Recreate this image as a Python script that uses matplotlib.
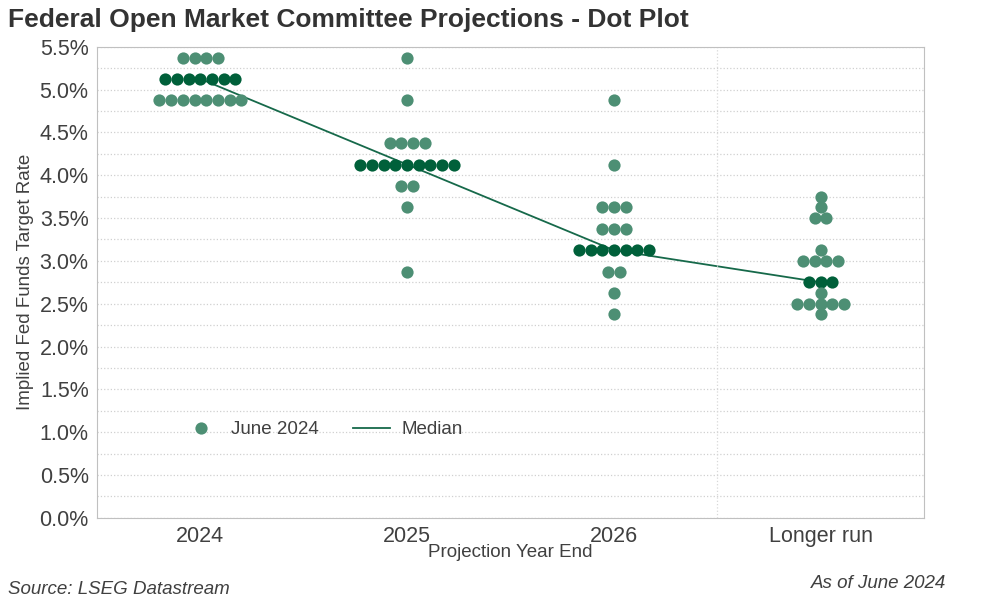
import matplotlib.pyplot as plt
from matplotlib.ticker import MultipleLocator, FuncFormatter

plt.rcParams['font.family'] = ['Liberation Sans', 'DejaVu Sans']

categories = ['2024', '2025', '2026', 'Longer run']
# rate level -> number of participants, per projection horizon
dots_2024 = {5.375: 4, 5.125: 7, 4.875: 8}
dots_2025 = {5.375: 1, 4.875: 1, 4.375: 4, 4.125: 9, 3.875: 2, 3.625: 1, 2.875: 1}
dots_2026 = {4.875: 1, 4.125: 1, 3.625: 3, 3.375: 3, 3.125: 7, 2.875: 2, 2.625: 1, 2.375: 1}
dots_lr = {3.75: 1, 3.625: 1, 3.5: 2, 3.125: 1, 3.0: 4, 2.75: 3, 2.625: 1, 2.5: 5, 2.375: 1}
medians = [5.125, 4.125, 3.125, 2.75]

light = '#4d8f74'
dark = '#00603a'
text_col = '#404040'

fig = plt.figure(figsize=(10, 6), dpi=100)
ax = fig.add_axes([0.097, 0.137, 0.827, 0.785])

step = 0.0565
msize = 8.8
all_dots = [dots_2024, dots_2025, dots_2026, dots_lr]
for i, d in enumerate(all_dots):
    for rate, n in d.items():
        xs = [i + (k - (n - 1) / 2) * step for k in range(n)]
        col = dark if rate == medians[i] else light
        ax.plot(xs, [rate] * n, 'o', color=col, markersize=msize, markeredgewidth=0, zorder=3)

ax.plot(range(len(categories)), medians, color='#16694a', lw=1.3, zorder=2)

# legend handles
ax.plot([], [], 'o', color=light, markersize=msize, markeredgewidth=0, label='June 2024')
ax.plot([], [], color='#16694a', lw=1.3, label='Median')
ax.legend(loc='center left', bbox_to_anchor=(0.083, 0.187), ncol=2, frameon=False,
          fontsize=13.5, labelcolor=text_col, handlelength=2.0, columnspacing=1.8,
          handletextpad=0.6)

ax.set_xlim(-0.5, 3.5)
ax.set_ylim(0, 5.5)
ax.set_xticks(range(len(categories)))
ax.set_xticklabels(categories)
ax.yaxis.set_major_locator(MultipleLocator(0.5))
ax.yaxis.set_minor_locator(MultipleLocator(0.25))
ax.yaxis.set_major_formatter(FuncFormatter(lambda v, p: f'{v:.1f}%'))
ax.tick_params(axis='both', length=0, labelsize=15.5, labelcolor=text_col, pad=6)
ax.tick_params(axis='y', which='minor', length=0)
ax.grid(axis='y', which='both', color='#d0d0d0', linestyle=':', lw=0.9)
ax.axvline(2.5, color='#d8d8d8', linestyle=':', lw=0.9)
for s in ax.spines.values():
    s.set_color('#c0c0c0')

ax.set_ylabel('Implied Fed Funds Target Rate', fontsize=13.5, color=text_col, labelpad=4)
ax.set_xlabel('Projection Year End', fontsize=13.5, color=text_col, labelpad=-2)

fig.text(0.008, 0.966, 'Federal Open Market Committee Projections - Dot Plot',
         fontsize=19, fontweight='bold', color='#333333', va='center')
fig.text(0.008, 0.018, 'Source: LSEG Datastream', fontsize=13.5, style='italic',
         color=text_col, va='center')
fig.text(0.946, 0.027, 'As of June 2024', fontsize=13.5, style='italic',
         color=text_col, va='center', ha='right')

fig.savefig('out.png', dpi=100)
